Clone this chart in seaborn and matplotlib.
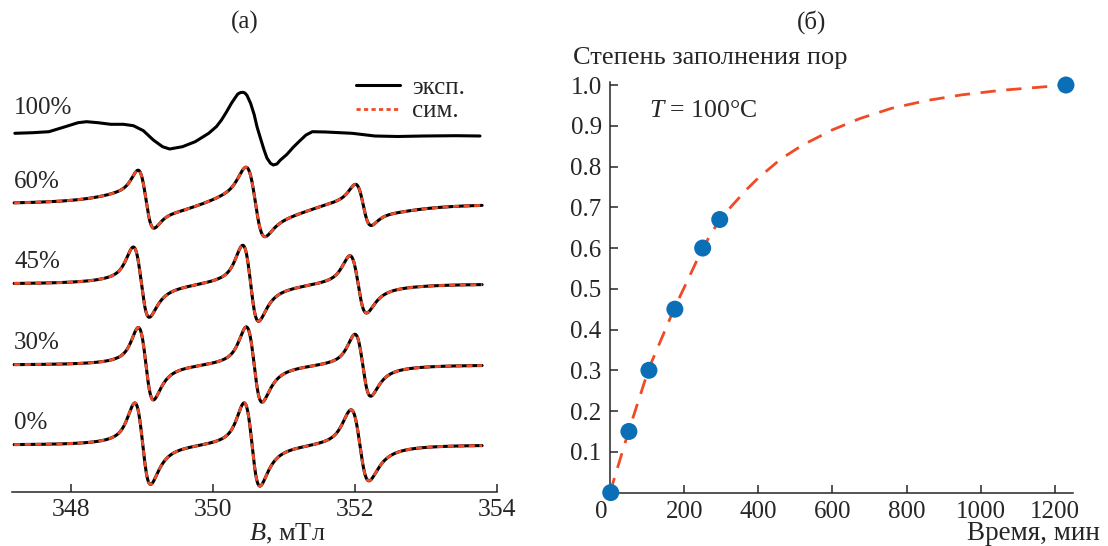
import numpy as np
import matplotlib
matplotlib.use("Agg")
import matplotlib.pyplot as plt
import seaborn as sns
from matplotlib.lines import Line2D
from matplotlib.transforms import ScaledTranslation

# ---------------- panel (а): EPR spectra ----------------
# narrow three-line spectra, line parameters
spec_labels = ["0%", "30%", "45%", "60%"]
spec_offsets = [47, 127, 208, 288]          # baseline of each trace (arb. units)
line_centers = [
    [349.01, 350.55, 352.07],
    [349.055, 350.58, 352.11],
    [348.99, 350.53, 352.045],
    [349.055, 350.595, 352.115],
]
line_widths = [                              # peak-to-peak, mT
    [0.22, 0.22, 0.25],
    [0.21, 0.22, 0.22],
    [0.22, 0.22, 0.23],
    [0.21, 0.25, 0.21],
]
line_amps = [
    [40, 41, 35],
    [35.5, 37, 30.5],
    [34, 37, 28],
    [26, 31, 19],
]
broad_amps = [
    [2, 2, 1.5],
    [2, 2, 1.5],
    [3, 3, 2],
    [8, 9, 5],
]
broad_width = 0.8

# 100% spectrum
b_100 = [347.21, 347.46, 347.69, 347.92, 348.10, 348.22, 348.38, 348.56, 348.74,
         348.88, 349.02, 349.16, 349.29, 349.39, 349.57, 349.75, 349.94, 350.05,
         350.12, 350.19, 350.26, 350.31, 350.35, 350.39, 350.42, 350.45, 350.48,
         350.53, 350.58, 350.62, 350.67, 350.72, 350.76, 350.81, 350.85, 350.90,
         350.95, 351.04, 351.13, 351.22, 351.31, 351.40, 351.59, 351.96, 352.28,
         352.60, 352.96, 353.42, 353.76]
s_100 = [-0.3, 0.3, 1.3, 6.3, 10.3, 11.3, 10.3, 8.7, 8.7,
         7.3, 2.3, -7.0, -13.7, -16.0, -13.7, -8.7, -0.3, 6.5,
         13.0, 21.0, 29.7, 35.0, 39.0, 40.5, 40.7, 40.0, 37.5,
         29.7, 18.5, 6.3, -5.5, -17.0, -25.0, -30.3, -32.0, -31.0,
         -27.0, -21.5, -14.3, -8.0, -2.0, 1.3, 1.0, -0.3, -3.0,
         -3.5, -3.0, -2.7, -3.0]
offset_100 = 359

# ---------------- panel (б): pore filling vs time ----------------
time_pts = [2, 51, 105, 175, 250, 296, 1230]
fill_pts = [0.0, 0.15, 0.30, 0.45, 0.60, 0.67, 1.0]
# dashed fit curve
fit_t = [0, 50, 105, 140, 175, 210, 250, 296, 330, 370, 400, 460, 520, 600,
         675, 760, 855, 950, 1055, 1150, 1230]
fit_y = [0.0, 0.15, 0.305, 0.38, 0.455, 0.522, 0.60, 0.67, 0.705, 0.745, 0.772,
         0.818, 0.853, 0.89, 0.918, 0.943, 0.962, 0.976, 0.987, 0.994, 1.0]

RED = "#f04a26"
BLUE = "#0b6fb8"


def deriv_line(b, c, w, a, eta_low=0.7):
    gam = w * np.sqrt(3) / 2
    sig = w / 2
    xl = (b - c) / gam
    xg = (b - c) / sig
    lor = -xl / (1 + xl ** 2) ** 2 / (9 / (16 * np.sqrt(3)))
    gau = -xg * np.exp(-xg ** 2 / 2) / np.exp(-0.5)
    eta = np.where(b < c, eta_low, 1.0)
    return a * (eta * lor + (1 - eta) * gau)


sns.set_style("ticks")
plt.rcParams["font.family"] = ["Liberation Serif", "DejaVu Serif"]
plt.rcParams["mathtext.fontset"] = "custom"
plt.rcParams["mathtext.it"] = "Liberation Serif:italic"
plt.rcParams["mathtext.rm"] = "Liberation Serif"

W, H = 1108, 546
fig = plt.figure(figsize=(W / 100, H / 100), dpi=100)

# ----- left panel -----
ax1 = fig.add_axes([12 / W, 54 / H, 485 / W, 432 / H])
B = np.linspace(347.2, 353.79, 1200)
for lab, off, cs, ws, am, ba in zip(spec_labels, spec_offsets, line_centers,
                                    line_widths, line_amps, broad_amps):
    sig = np.zeros_like(B)
    for c, w, a, bb in zip(cs, ws, am, ba):
        sig += deriv_line(B, c, w, a) + deriv_line(B, c + 0.1, broad_width, bb, 1.0)
    sns.lineplot(x=B, y=off + sig, ax=ax1, color="black", lw=2.2,
                 estimator=None, errorbar=None, sort=False)
    sns.lineplot(x=B, y=off + sig, ax=ax1, color=RED, lw=2.0,
                 linestyle=(0, (2.2, 1.6)), estimator=None, errorbar=None, sort=False)
    ax1.text(347.2, off + 22, lab, fontsize=18, ha="left", va="center")

sns.lineplot(x=b_100, y=np.array(s_100) + offset_100, ax=ax1, color="black",
             lw=2.2, estimator=None, errorbar=None, sort=False)
ax1.text(347.2, offset_100 + 25, "100%", fontsize=18, ha="left", va="center")

ax1.set_xlim(347.17, 354.0)
ax1.set_ylim(0, 432)
ax1.set_xticks([348, 350, 352, 354])
ax1.set_yticks([])
for s in ["left", "right", "top"]:
    ax1.spines[s].set_visible(False)
ax1.spines["bottom"].set_linewidth(1.1)
ax1.tick_params(axis="x", direction="in", length=6, width=1.1, labelsize=18.5, pad=5)
ax1.set_xlabel("")
ax1.set_ylabel("")

handles = [Line2D([], [], color="black", lw=2.2),
           Line2D([], [], color=RED, lw=2.0, linestyle=(0, (1.5, 1.2)))]
ax1.legend(handles, ["эксп.", "сим."], loc="upper right", frameon=False,
           fontsize=18, handlelength=1.75, handletextpad=0.5, labelspacing=0.05,
           borderpad=0, borderaxespad=0,
           bbox_to_anchor=(465 / W, 1 - 76 / H), bbox_transform=fig.transFigure)

fig.text(245 / W, 1 - 22 / H, "(а)", fontsize=18, ha="center", va="center")
fig.text(287 / W, 1 - 534 / H, "$B$, мТл", fontsize=19, ha="center", va="center")

# ----- right panel -----
ax2 = fig.add_axes([610 / W, 53.4 / H, 463 / W, 410.6 / H])
sns.lineplot(x=fit_t, y=fit_y, ax=ax2, color=RED, lw=2.0,
             linestyle=(0, (5.5, 3.8)), estimator=None, errorbar=None, sort=False)
sns.scatterplot(x=time_pts, y=fill_pts, ax=ax2, color=BLUE, s=150,
                edgecolor="none", clip_on=False, zorder=5)
ax2.set_xlim(0, 1249)
ax2.set_ylim(0, 1.0074)
ax2.set_xticks([0, 200, 400, 600, 800, 1000, 1200])
ax2.set_yticks([0.1, 0.2, 0.3, 0.4, 0.5, 0.6, 0.7, 0.8, 0.9, 1.0])
ax2.set_yticklabels([f"{v:.1f}" for v in ax2.get_yticks()])
for s in ["right", "top"]:
    ax2.spines[s].set_visible(False)
for s in ["left", "bottom"]:
    ax2.spines[s].set_linewidth(1.1)
ax2.tick_params(direction="in", length=6, width=1.1, labelsize=18, pad=6)
zero_lab = ax2.get_xticklabels()[0]
zero_lab.set_horizontalalignment("right")
zero_lab.set_transform(zero_lab.get_transform() +
                       ScaledTranslation(-3 / 100, 0, fig.dpi_scale_trans))
ax2.set_xlabel("")
ax2.set_ylabel("")
ax2.text(0.085, 0.93, "$T$ = 100°C", transform=ax2.transAxes, fontsize=18.5,
         ha="left", va="center")

fig.text(812 / W, 1 - 22 / H, "(б)", fontsize=18, ha="center", va="center")
fig.text(573 / W, 1 - 58 / H, "Степень заполнения пор", fontsize=19,
         ha="left", va="center")
fig.text(1100 / W, 1 - 534 / H, "Время, мин", fontsize=19.5, ha="right", va="center")

fig.savefig("out.png", dpi=100)
